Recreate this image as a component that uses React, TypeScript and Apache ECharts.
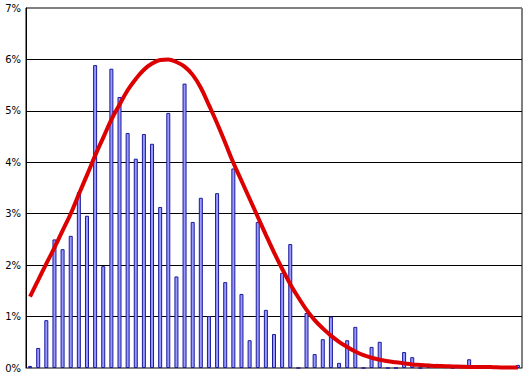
import React, { useEffect, useRef } from "react";
import * as echarts from "echarts";

const categories: string[] = Array.from({ length: 61 }, (_, i) => String(i + 1));

const barValues: number[] = [
  0.04, 0.39, 0.93, 2.5, 2.31, 2.57, 3.42, 2.96, 5.89, 1.98,
  5.82, 5.27, 4.57, 4.07, 4.55, 4.36, 3.13, 4.96, 1.78, 5.53,
  2.84, 3.31, 1.01, 3.4, 1.67, 3.88, 1.44, 0.54, 2.84, 1.13,
  0.66, 1.85, 2.41, 0, 1.07, 0.27, 0.56, 1.0, 0.1, 0.54,
  0.8, 0, 0.41, 0.51, 0, 0, 0.31, 0.21, 0, 0.08,
  0.08, 0.06, 0, 0.06, 0.17, 0, 0.05, 0, 0, 0,
  0.06,
];

const curveValues: number[] = [
  1.39, 1.71, 2.03, 2.34, 2.67, 3.0, 3.38, 3.75, 4.13, 4.48,
  4.83, 5.12, 5.4, 5.62, 5.8, 5.92, 5.99, 6.0, 5.95, 5.86,
  5.7, 5.45, 5.11, 4.76, 4.38, 3.99, 3.64, 3.29, 2.94, 2.59,
  2.25, 1.93, 1.63, 1.37, 1.13, 0.93, 0.77, 0.63, 0.51, 0.41,
  0.32, 0.25, 0.2, 0.16, 0.13, 0.11, 0.09, 0.07, 0.06, 0.05,
  0.04, 0.035, 0.03, 0.025, 0.02, 0.02, 0.02, 0.015, 0.01, 0.01,
  0.01,
];

const yTicks = { min: 0, max: 7, interval: 1 };

export default function App() {
  const ref = useRef<HTMLDivElement>(null);
  useEffect(() => {
    document.body.style.margin = "0";
    if (!ref.current) return;
    const chart = echarts.init(ref.current, undefined, { renderer: "svg" });
    chart.setOption({
      animation: false,
      backgroundColor: "#ffffff",
      grid: {
        left: 26,
        right: 3,
        top: 8,
        bottom: 6,
        show: true,
        borderColor: "#000000",
        borderWidth: 1,
      },
      xAxis: {
        type: "category",
        data: categories,
        boundaryGap: true,
        axisLine: { show: true, lineStyle: { color: "#808080", width: 1 } },
        axisTick: { show: false },
        axisLabel: { show: false },
        splitLine: { show: false },
      },
      yAxis: {
        type: "value",
        min: yTicks.min,
        max: yTicks.max,
        interval: yTicks.interval,
        axisLine: { show: true, lineStyle: { color: "#000000", width: 1 } },
        axisTick: { show: false },
        axisLabel: {
          formatter: "{value}%",
          color: "#000000",
          fontFamily: "DejaVu Sans",
          fontSize: 10,
          margin: 5,
        },
        splitLine: {
          show: true,
          lineStyle: {
            color: ["#808080", "#000000", "#000000", "#000000", "#000000", "#000000", "#000000", "#808080"],
            width: 1,
          },
        },
      },
      series: [
        {
          type: "bar",
          data: barValues,
          barWidth: 4,
          itemStyle: { color: "#9999ff", borderColor: "#1a1a99", borderWidth: 1 },
          z: 2,
        },
        {
          type: "line",
          data: curveValues,
          smooth: 0.4,
          symbol: "none",
          lineStyle: { color: "#dd0000", width: 4 },
          z: 3,
        },
      ],
    });
    return () => chart.dispose();
  }, []);
  return <div ref={ref} style={{ width: 525, height: 374 }} />;
}
